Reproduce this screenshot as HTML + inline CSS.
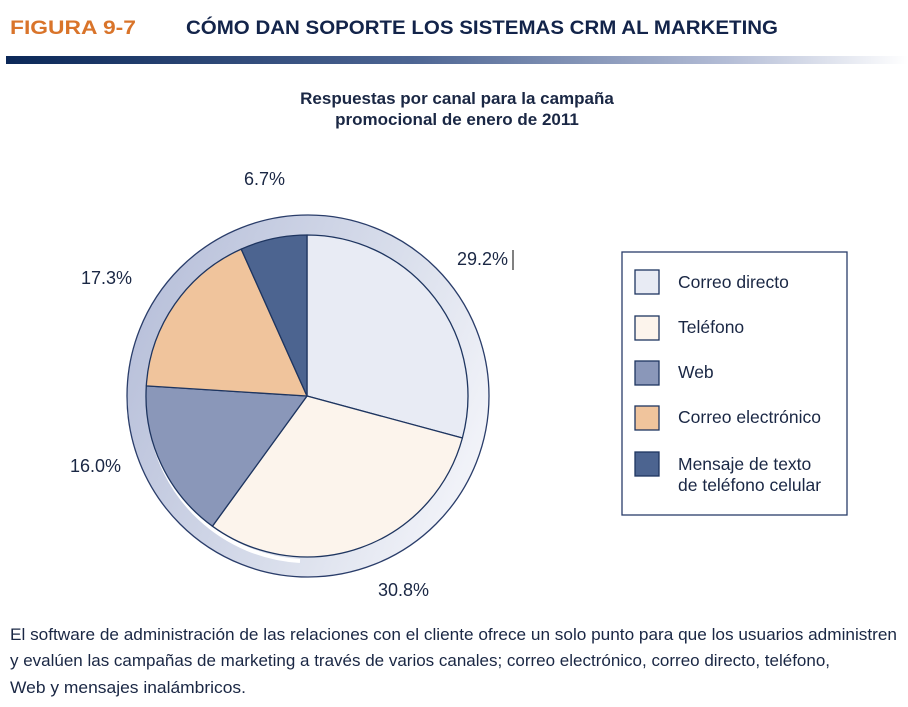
<!DOCTYPE html>
<html><head><meta charset="utf-8"><style>
html,body{margin:0;padding:0;background:#fff;}
svg{display:block;}
text{font-family:"Liberation Sans",sans-serif;}
</style></head><body>
<svg width="908" height="707" viewBox="0 0 908 707" xmlns="http://www.w3.org/2000/svg">
<defs>
<linearGradient id="bar" x1="0" x2="1" y1="0" y2="0">
<stop offset="0" stop-color="#0b2858"/><stop offset="0.45" stop-color="#4d6593"/><stop offset="0.8" stop-color="#b4bdd6"/><stop offset="1" stop-color="#ffffff"/>
</linearGradient>
<linearGradient id="ring" x1="0" x2="1" y1="0.3" y2="0.7">
<stop offset="0" stop-color="#b8c0da"/><stop offset="0.6" stop-color="#dadfec"/><stop offset="1" stop-color="#f4f5fa"/>
</linearGradient>
</defs>
<text x="10" y="34" font-size="19" font-weight="bold" fill="#d9742a" textLength="126" lengthAdjust="spacingAndGlyphs">FIGURA 9-7</text>
<text x="186" y="34" font-size="19" font-weight="bold" fill="#13244a" textLength="592" lengthAdjust="spacingAndGlyphs">CÓMO DAN SOPORTE LOS SISTEMAS CRM AL MARKETING</text>
<rect x="6" y="56" width="902" height="8" fill="url(#bar)"/>
<text x="457" y="104" font-size="17" font-weight="bold" fill="#1a2744" text-anchor="middle">Respuestas por canal para la campaña</text>
<text x="457" y="125" font-size="17" font-weight="bold" fill="#1a2744" text-anchor="middle">promocional de enero de 2011</text>
<circle cx="308" cy="396" r="181" fill="url(#ring)" stroke="#2a3d6a" stroke-width="1.3"/>
<path d="M150 420 A160 160 0 0 0 300 561" fill="none" stroke="#fff" stroke-width="4"/>
<g stroke="#1e3560" stroke-width="1.3" stroke-linejoin="round">
<path d="M307 396 L307 235 A161 161 0 0 1 462.4 438 Z" fill="#e8ebf4"/>
<path d="M307 396 L462.4 438 A161 161 0 0 1 212.4 526.2 Z" fill="#fcf4ec"/>
<path d="M307 396 L212.4 526.2 A161 161 0 0 1 146.3 385.9 Z" fill="#8a97b9"/>
<path d="M307 396 L146.3 385.9 A161 161 0 0 1 241.2 249.1 Z" fill="#f0c49c"/>
<path d="M307 396 L241.2 249.1 A161 161 0 0 1 307 235 Z" fill="#4c6490"/>
</g>
<g font-size="18" fill="#1a2744">
<text x="244" y="185">6.7%</text>
<text x="457" y="265">29.2%</text>
<text x="81" y="284">17.3%</text>
<text x="70" y="472">16.0%</text>
<text x="378" y="596">30.8%</text>
</g>
<line x1="513" y1="250" x2="513" y2="270" stroke="#000" stroke-width="1"/>
<rect x="622" y="252" width="225" height="263" fill="#fff" stroke="#2a3d6a" stroke-width="1.3"/>
<g stroke="#1e3560" stroke-width="1.3">
<rect x="635" y="270" width="24" height="24" fill="#e8ebf4"/>
<rect x="635" y="316" width="24" height="24" fill="#fcf4ec"/>
<rect x="635" y="361" width="24" height="24" fill="#8a97b9"/>
<rect x="635" y="406" width="24" height="24" fill="#f0c49c"/>
<rect x="635" y="452" width="24" height="24" fill="#4c6490"/>
</g>
<g font-size="17.5" fill="#1a2744">
<text x="678" y="288">Correo directo</text>
<text x="678" y="333">Teléfono</text>
<text x="678" y="378">Web</text>
<text x="678" y="423">Correo electrónico</text>
<text x="678" y="470">Mensaje de texto</text>
<text x="678" y="491">de teléfono celular</text>
</g>
<g font-size="17" fill="#1a2744">
<text x="10" y="640" textLength="887" lengthAdjust="spacingAndGlyphs">El software de administración de las relaciones con el cliente ofrece un solo punto para que los usuarios administren</text>
<text x="10" y="666" textLength="820" lengthAdjust="spacingAndGlyphs">y evalúen las campañas de marketing a través de varios canales; correo electrónico, correo directo, teléfono,</text>
<text x="10" y="693" textLength="236" lengthAdjust="spacingAndGlyphs">Web y mensajes inalámbricos.</text>
</g>
</svg>
</body></html>
